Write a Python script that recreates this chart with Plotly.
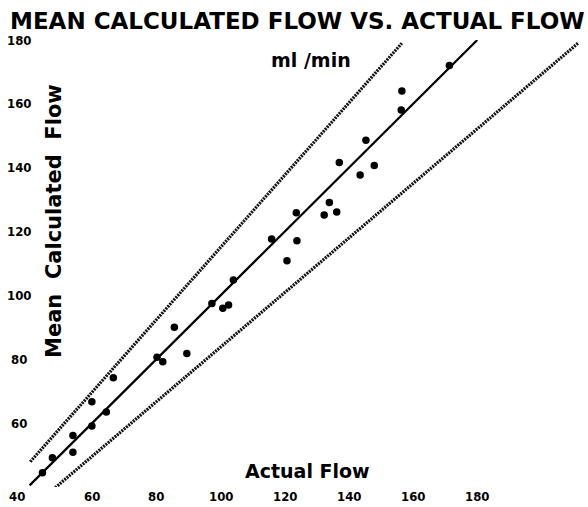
import plotly.graph_objects as go

# ---- data ----
actual_flow = [44.5, 47.6, 54.0, 54.0, 59.9, 59.9, 64.4, 66.6, 80.2, 82.0,
               85.6, 89.5, 97.3, 100.7, 102.5, 104.0, 115.9, 120.7, 123.8, 123.6,
               132.3, 133.9, 136.2, 137.0, 143.5, 145.3, 147.9, 156.5, 156.3, 171.3]
calc_flow = [44.5, 49.2, 56.1, 50.9, 66.7, 59.1, 63.5, 74.2, 80.6, 79.2,
             90.0, 81.8, 97.5, 96.0, 97.0, 104.8, 117.7, 110.9, 117.1, 125.9,
             125.2, 129.1, 126.1, 141.6, 137.7, 148.6, 140.7, 164.0, 158.1, 172.0]

identity_x = [40.5, 180.0]
identity_y = [40.5, 180.0]
upper_x = [40.7, 156.5]
upper_y = [47.9, 179.0]
lower_x = [48.5, 211.4]
lower_y = [39.8, 179.0]

tick_vals = [40, 60, 80, 100, 120, 140, 160, 180]
tick_text = ["40", "60", "80", "100", "120", "140", "160", "180"]

title_text = "MEAN CALCULATED FLOW VS. ACTUAL FLOW"
subtitle_text = "ml /min"
y_title = "Mean\u00a0\u00a0Calculated\u00a0\u00a0Flow"
x_title = "Actual Flow"

BOLD = "DejaVu Sans"
COND = "Liberation Sans Narrow, DejaVu Sans Condensed, DejaVu Sans"

fig = go.Figure()
dash_pat = "2px,1px"
fig.add_trace(go.Scatter(x=upper_x, y=upper_y, mode="lines",
                         line=dict(color="#111", width=3.2, dash=dash_pat), hoverinfo="skip"))
fig.add_trace(go.Scatter(x=lower_x, y=lower_y, mode="lines",
                         line=dict(color="#111", width=3.2, dash=dash_pat), hoverinfo="skip"))
fig.add_trace(go.Scatter(x=identity_x, y=identity_y, mode="lines",
                         line=dict(color="black", width=2.2), hoverinfo="skip"))
fig.add_trace(go.Scatter(x=actual_flow, y=calc_flow, mode="markers",
                         marker=dict(color="black", size=7.5)))

W, H = 588, 507
ml, mr, mt, mb = 28, 0, 40, 20
fig.update_layout(
    width=W, height=H,
    margin=dict(l=ml, r=mr, t=mt, b=mb),
    paper_bgcolor="white", plot_bgcolor="white",
    showlegend=False,
    xaxis=dict(range=[40, 214.5], showgrid=False, zeroline=False, showline=False,
               ticks="", showticklabels=False),
    yaxis=dict(range=[40, 180], showgrid=False, zeroline=False, showline=False,
               ticks="", showticklabels=False),
)

pw, ph = W - ml - mr, H - mt - mb
def px(xp):
    return (xp - ml) / pw
def py(yp):
    return (H - mb - yp) / ph

tick_font = dict(family=COND, size=13, weight="bold", color="black")
ann = []
# x-axis tick labels (positioned by the x axis scale)
for v, t in zip(tick_vals[1:], tick_text[1:]):
    ann.append(dict(text=t, x=v, xref="x", y=py(496), yref="paper", font=dict(tick_font)))
# y-axis tick labels (positioned by the y axis scale)
for v, t in zip(tick_vals[1:], tick_text[1:]):
    ann.append(dict(text=t, x=px(19), xref="paper", y=v, yref="y", font=dict(tick_font)))
# shared corner label
ann.append(dict(text=tick_text[0], x=px(17), xref="paper", y=py(497), yref="paper", font=dict(tick_font)))

for a in [
    dict(text=title_text, x=px(297), y=py(21), font=dict(family=BOLD, size=23, weight="bold")),
    dict(text=subtitle_text, x=px(311), y=py(60), font=dict(family=BOLD, size=19, weight="bold")),
    dict(text=x_title, x=px(307), y=py(471), font=dict(family=BOLD, size=19, weight="bold")),
    dict(text=y_title, x=px(54), y=py(221), textangle=-90, font=dict(family=BOLD, size=21, weight="bold")),
]:
    a.update(xref="paper", yref="paper")
    a["font"]["color"] = "black"
    ann.append(a)

for a in ann:
    a.update(showarrow=False, xanchor="center", yanchor="middle")
fig.update_layout(annotations=ann)

fig.write_html("out.html", config={"displayModeBar": False},
               post_script="document.body.style.margin='0';document.body.style.padding='0';")
